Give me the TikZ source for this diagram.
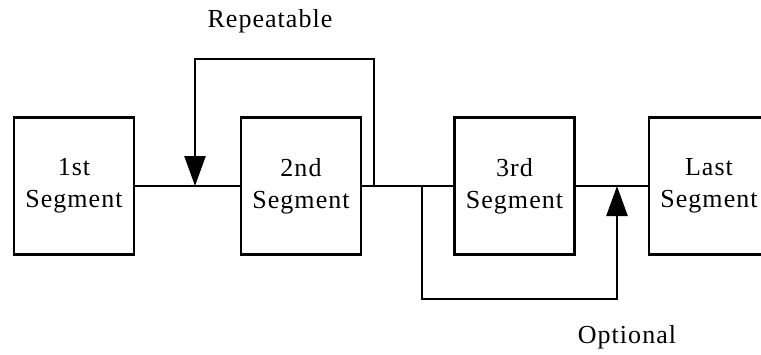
\documentclass[tikz,border=0pt]{standalone}
\usepackage{fontspec}
\setmainfont{Liberation Serif}[LetterSpace=4]
\usetikzlibrary{arrows.meta}
\begin{document}
\begin{tikzpicture}[x=1pt,y=-1pt,
  seg/.style={draw,line width=2.5pt,minimum width=120pt,minimum height=137pt,inner sep=0pt,align=center,font=\fontsize{26}{32}\selectfont},
  conn/.style={line width=2.5pt},
  lbl/.style={font=\fontsize{26}{30}\selectfont,inner sep=0pt},
  tip/.style={-{Triangle[length=30pt,width=21pt]}}]
\useasboundingbox (0,0) rectangle (761,354);
\node[seg] (b1) at (74,186) {1st\\Segment};
\node[seg] (b2) at (301,186) {2nd\\Segment};
\node[seg] (b3) at (514.5,186) {3rd\\Segment};
\node[seg] (b4) at (709,186) {Last\\Segment};
\draw[conn] (b1.east) -- (b2.west);
\draw[conn] (b2.east) -- (b3.west);
\draw[conn] (b3.east) -- (b4.west);
\coordinate (r1) at (374,186);
\coordinate (r2) at (195,186);
\coordinate (o1) at (422,186);
\coordinate (o2) at (617,186);
\draw[conn,tip] (r1) -- (374,59) -| (r2);
\draw[conn,tip] (o1) -- (422,299) -| (o2);
\node[lbl,anchor=base] (rep) at (270,27) {Repeatable};
\node[lbl,anchor=base] (opt) at (627,343) {Optional};
\end{tikzpicture}
\end{document}
